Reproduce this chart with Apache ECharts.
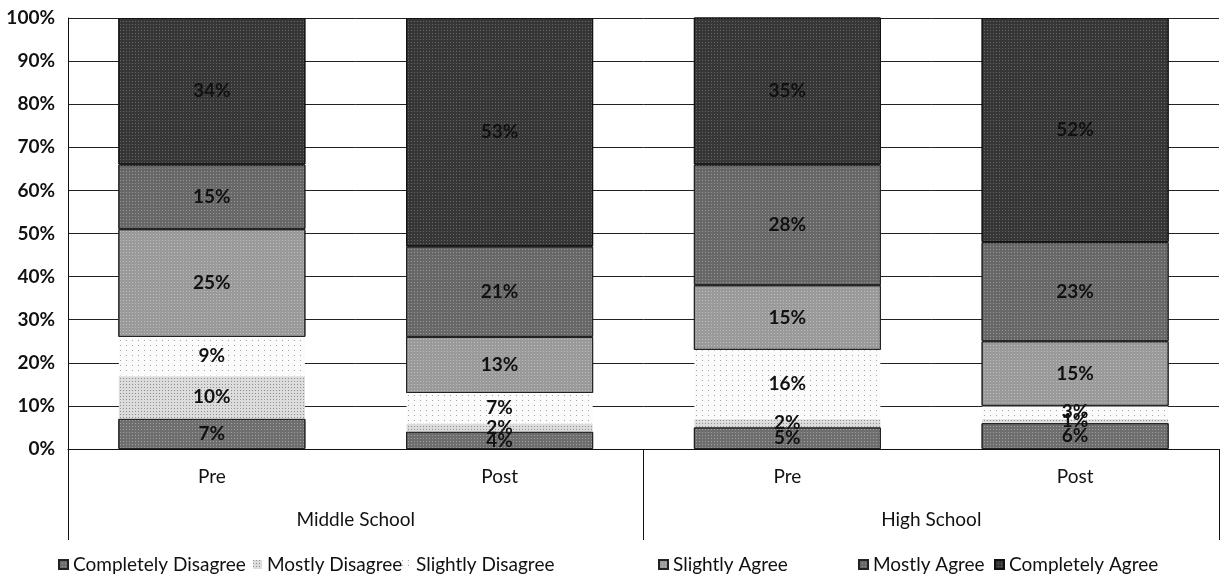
<!DOCTYPE html>
<html>
<head>
<meta charset="utf-8">
<script src="https://cdn.jsdelivr.net/npm/echarts@6/dist/echarts.min.js"></script>
<style>
  html, body { margin: 0; padding: 0; background: #fff; }
  #chart { width: 1225px; height: 581px; }
</style>
</head>
<body>
<div id="chart"></div>
<script>
// Survey responses by school level, before and after (percent of students)
const stages = ['Pre', 'Post', 'Pre', 'Post'];
const schools = ['Middle School', 'High School'];
const yTicks = [0, 10, 20, 30, 40, 50, 60, 70, 80, 90, 100];

const completelyDisagree = [7, 4, 5, 6];
const mostlyDisagree     = [10, 2, 2, 1];
const slightlyDisagree   = [9, 7, 16, 3];
const slightlyAgree      = [25, 13, 15, 15];
const mostlyAgree        = [15, 21, 28, 23];
const completelyAgree    = [34, 53, 35, 52];

const FONT = 'Lato';
const FS = 19;

const seriesDefs = [
  { name: 'Completely Disagree', data: completelyDisagree, color: '#6e6e6e', border: '#222',
    decal: { symbol: 'rect', symbolSize: 1, color: 'rgba(255,255,255,0.35)', dashArrayX: [1, 2], dashArrayY: [1, 2] } },
  { name: 'Mostly Disagree', data: mostlyDisagree, color: '#dcdcdc', border: 'rgba(0,0,0,0)',
    decal: { symbol: 'rect', symbolSize: 1, color: 'rgba(0,0,0,0.35)', dashArrayX: [1, 2], dashArrayY: [1, 2] } },
  { name: 'Slightly Disagree', data: slightlyDisagree, color: '#fbfbfb', border: 'rgba(0,0,0,0)',
    decal: { symbol: 'rect', symbolSize: 1, color: 'rgba(0,0,0,0.35)', dashArrayX: [1, 5], dashArrayY: [1, 4] } },
  { name: 'Slightly Agree', data: slightlyAgree, color: '#9a9a9a', border: '#222',
    decal: { symbol: 'rect', symbolSize: 1, color: 'rgba(255,255,255,0.35)', dashArrayX: [1, 2], dashArrayY: [1, 2] } },
  { name: 'Mostly Agree', data: mostlyAgree, color: '#686868', border: '#222',
    decal: { symbol: 'rect', symbolSize: 1, color: 'rgba(255,255,255,0.3)', dashArrayX: [1, 2], dashArrayY: [1, 2] } },
  { name: 'Completely Agree', data: completelyAgree, color: '#363636', border: '#111',
    decal: { symbol: 'rect', symbolSize: 1, color: 'rgba(255,255,255,0.25)', dashArrayX: [1, 2], dashArrayY: [1, 2] } }
];

// legend entries sit in fixed slots along the bottom (left edge of each swatch)
const legendLeft = [58, 252, 401, 658, 858, 994];

const chart = echarts.init(document.getElementById('chart'), null, { renderer: 'canvas' });

chart.setOption({
  animation: false,
  backgroundColor: '#fff',
  textStyle: { fontFamily: FONT },
  grid: { left: 68, right: 6, top: 18, bottom: 132, containLabel: false },
  legend: seriesDefs.map((s, i) => ({
    left: legendLeft[i],
    top: 555,
    padding: 0,
    itemWidth: 9,
    itemHeight: 9,
    itemGap: 0,
    icon: 'rect',
    textStyle: { fontFamily: FONT, fontSize: FS, color: '#111' },
    data: [s.name]
  })),
  xAxis: [
    {
      type: 'category',
      data: stages,
      position: 'bottom',
      axisLine: { show: true, lineStyle: { color: '#111', width: 1 } },
      axisTick: { show: false },
      axisLabel: { fontFamily: FONT, fontSize: FS, color: '#111', margin: 18 }
    },
    {
      type: 'category',
      data: schools,
      position: 'bottom',
      gridIndex: 0,
      axisLine: { show: false },
      axisTick: { show: true, length: 91, lineStyle: { color: '#111', width: 1 } },
      axisLabel: { fontFamily: FONT, fontSize: FS, color: '#111', margin: 61 }
    }
  ],
  yAxis: {
    type: 'value',
    min: yTicks[0],
    max: yTicks[yTicks.length - 1],
    interval: 10,
    axisLine: { show: true, lineStyle: { color: '#111', width: 1 } },
    axisTick: { show: false },
    axisLabel: { formatter: '{value}%', fontFamily: FONT, fontSize: FS, fontWeight: 'bold', color: '#111', margin: 13 },
    splitLine: { show: true, lineStyle: { color: '#222', width: 1 } }
  },
  series: seriesDefs.map(s => ({
    name: s.name,
    type: 'bar',
    stack: 'total',
    xAxisIndex: 0,
    barWidth: '65%',
    data: s.data,
    itemStyle: { color: s.color, borderColor: s.border, borderWidth: 1, decal: s.decal },
    label: {
      show: true,
      position: 'inside',
      formatter: '{c}%',
      fontFamily: FONT,
      fontSize: FS,
      fontWeight: 'bold',
      color: '#111',
      textBorderWidth: 0
    }
  }))
});
</script>
</body>
</html>
